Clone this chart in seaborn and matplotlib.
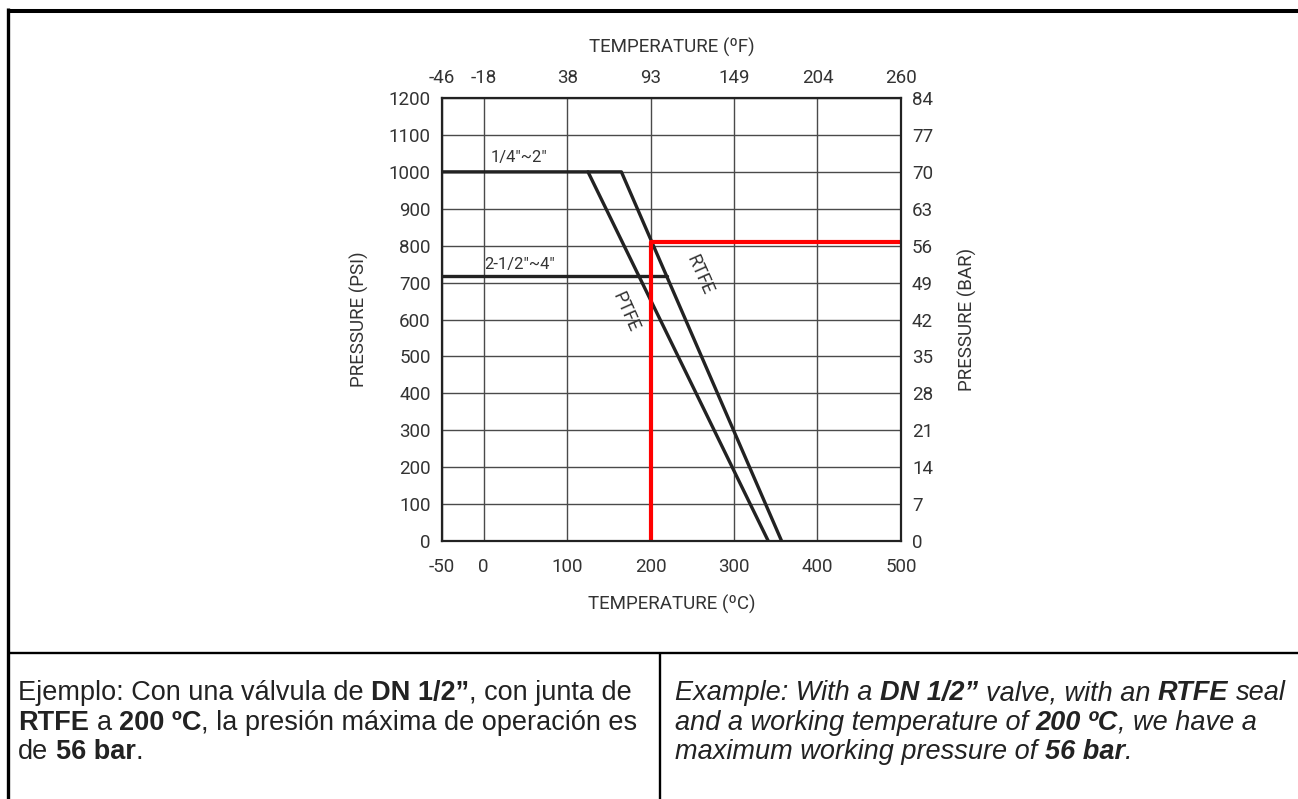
import matplotlib
matplotlib.use("Agg")
import matplotlib.pyplot as plt
import seaborn as sns

# axis ticks
temp_c_ticks = [-50, 0, 100, 200, 300, 400, 500]
temp_f_labels = ["-46", "-18", "38", "93", "149", "204", "260"]
psi_ticks = [0, 100, 200, 300, 400, 500, 600, 700, 800, 900, 1000, 1100, 1200]
bar_labels = ["0", "7", "14", "21", "28", "35", "42", "49", "56", "63", "70", "77", "84"]

# pressure / temperature curves
rtfe_temp = [-50, 165, 357]
rtfe_psi = [1000, 1000, 0]
ptfe_temp = [125, 341]
ptfe_psi = [1000, 0]
large_temp = [-50, 220]
large_psi = [718, 718]
example_temp = [200, 200, 500]
example_psi = [0, 810, 810]

sns.set_theme(style="white")
plt.rcParams["font.family"] = ["Roboto", "DejaVu Sans"]
plt.rcParams["axes.unicode_minus"] = False

fig = plt.figure(figsize=(12.98, 7.99), dpi=100)

# page frame / table lines
bg = fig.add_axes([0, 0, 1, 1])
bg.set_xlim(0, 1298)
bg.set_ylim(799, 0)
bg.axis("off")
bg.plot([8.3, 8.3], [8, 799], color="black", lw=2.4, solid_capstyle="butt")
bg.plot([7, 1298], [11, 11], color="black", lw=2.9, solid_capstyle="butt")
bg.plot([8, 1298], [652.7, 652.7], color="black", lw=1.7, solid_capstyle="butt")
bg.plot([660, 660], [652.7, 799], color="black", lw=1.7, solid_capstyle="butt")

ink = "#333333"
ax = fig.add_axes([0.3405, 0.3229, 0.3536, 0.5544])
ax.set_xlim(-50, 500)
ax.set_ylim(0, 1200)
ax.set_xticks(temp_c_ticks)
ax.set_yticks(psi_ticks)
ax.grid(True, color="#4a4a4a", lw=1.0)
ax.tick_params(length=0, labelsize=13.5, labelcolor=ink)
ax.tick_params(axis="x", pad=12)
ax.tick_params(axis="y", pad=8)
for s in ax.spines.values():
    s.set_color("#222222")
    s.set_linewidth(1.6)

line_kw = dict(sort=False, estimator=None, color="#222222", lw=2.4, ax=ax)
sns.lineplot(x=rtfe_temp, y=rtfe_psi, **line_kw)
sns.lineplot(x=ptfe_temp, y=ptfe_psi, **line_kw)
sns.lineplot(x=large_temp, y=large_psi, **line_kw)
sns.lineplot(x=example_temp, y=example_psi, sort=False, estimator=None,
             color="#ff0000", lw=3.0, ax=ax)

ax.text(42, 1040, '1/4"~2"', ha="center", va="center", fontsize=12, color=ink)
ax.text(43, 750, '2-1/2"~4"', ha="center", va="center", fontsize=12, color=ink)
ax.text(259, 721, "RTFE", rotation=-66, rotation_mode="anchor",
        ha="center", va="center", fontsize=13, color=ink)
ax.text(170, 620, "PTFE", rotation=-66, rotation_mode="anchor",
        ha="center", va="center", fontsize=13, color=ink)

ax.set_xlabel("TEMPERATURE (ºC)", fontsize=13.5, color=ink, labelpad=14)
ax.set_ylabel("PRESSURE (PSI)", fontsize=13.5, color=ink, labelpad=14)

axt = ax.twiny()
axt.set_xlim(ax.get_xlim())
axt.set_xticks(temp_c_ticks)
axt.set_xticklabels(temp_f_labels)
axt.tick_params(length=0, labelsize=13.5, labelcolor=ink, pad=8)
axt.set_xlabel("TEMPERATURE (ºF)", fontsize=13.5, color=ink, labelpad=12)
axt.grid(False)

axr = ax.twinx()
axr.set_ylim(ax.get_ylim())
axr.set_yticks(psi_ticks)
axr.set_yticklabels(bar_labels)
axr.tick_params(length=0, labelsize=13.5, labelcolor=ink, pad=8)
axr.set_ylabel("PRESSURE (BAR)", fontsize=13.5, color=ink, labelpad=18)
axr.grid(False)
for a in (axt, axr):
    for s in a.spines.values():
        s.set_visible(False)

# example texts with bold runs
fs = 19.5
sp = 0.278 * fs


def rich_line(x, y, pieces, style):
    prev = None
    for text, bold, gap in pieces:
        kw = dict(fontsize=fs, family=["Liberation Sans", "DejaVu Sans"],
                  fontweight="bold" if bold else "normal", fontstyle=style,
                  color="#222222")
        if prev is None:
            prev = bg.text(x, y, text, ha="left", va="bottom", **kw)
        else:
            prev = bg.annotate(text, xy=(1, 0), xycoords=prev, xytext=(gap, 0),
                               textcoords="offset points", ha="left", va="bottom", **kw)


es_lines = [
    [("Ejemplo: Con una válvula de", False, 0), ("DN 1/2”", True, sp), (", con junta de", False, 0)],
    [("RTFE", True, 0), ("a", False, sp), ("200 ºC", True, sp), (", la presión máxima de operación es", False, 0)],
    [("de", False, 0), ("56 bar", True, sp), (".", False, 0)],
]
en_lines = [
    [("Example: With a", False, 0), ("DN 1/2”", True, sp), ("valve, with an", False, sp),
     ("RTFE", True, sp), ("seal", False, sp)],
    [("and a working temperature of", False, 0), ("200 ºC", True, sp), (", we have a", False, 0)],
    [("maximum working pressure of", False, 0), ("56 bar", True, sp), (".", False, 0)],
]
for i, pieces in enumerate(es_lines):
    rich_line(18, 706 + i * 29.5, pieces, "normal")
for i, pieces in enumerate(en_lines):
    rich_line(675, 706 + i * 29.5, pieces, "italic")

fig.savefig("out.png", dpi=100)
